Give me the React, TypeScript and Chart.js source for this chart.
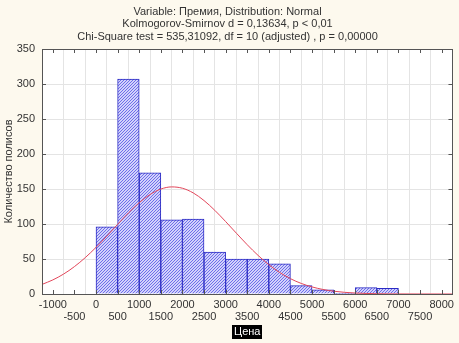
import React, { useEffect, useRef } from "react";
import { Chart, registerables } from "chart.js";
Chart.register(...registerables);

const titleLines = [
  "Variable: Премия, Distribution: Normal",
  "Kolmogorov-Smirnov d = 0,13634, p < 0,01",
  "Chi-Square test = 535,31092, df = 10 (adjusted) , p = 0,00000",
];
const xTitle = "Цена";
const yTitle = "Количество полисов";

const binWidth = 500;
const binStarts = [0, 500, 1000, 1500, 2000, 2500, 3000, 3500, 4000, 4500, 5000, 5500, 6000, 6500];
const binCounts = [96, 307, 173, 106, 107, 60, 50, 50, 43, 12, 6, 1, 9, 8];

const curveX = [
  -1250, -1000, -750, -500, -250, 0, 250, 500, 750, 1000, 1250, 1500, 1750, 2000, 2250, 2500, 2750, 3000,
  3250, 3500, 3750, 4000, 4250, 4500, 4750, 5000, 5250, 5500, 5750, 6000, 6250, 6500, 6750, 7000, 7250,
  7500, 7750, 8000, 8250,
];
const curveY = [
  13.7, 20.1, 28.5, 39.1, 51.9, 66.6, 82.7, 99.5, 115.8, 130.4, 142.1, 149.9, 153.0, 151.1, 144.4, 133.5,
  119.5, 103.5, 86.8, 70.4, 55.2, 41.9, 30.8, 21.9, 15.1, 10.1, 6.5, 4.0, 2.4, 1.4, 0.8, 0.4, 0.2, 0.1,
  0.05, 0.02, 0.01, 0, 0,
];

const xTickValues = [
  -1000, -500, 0, 500, 1000, 1500, 2000, 2500, 3000, 3500, 4000, 4500, 5000, 5500, 6000, 6500, 7000, 7500, 8000,
];
const xMin = -1250;
const xMax = 8250;
const yMax = 350;
const yStep = 50;

const FONT = "'Liberation Sans', Arial, sans-serif";
const BG = "#fdf9ee";

function makeHatch(ctx: CanvasRenderingContext2D) {
  const c = document.createElement("canvas");
  c.width = 3;
  c.height = 3;
  const p = c.getContext("2d")!;
  p.fillStyle = "#d2d2fb";
  p.fillRect(0, 0, 3, 3);
  p.fillStyle = "#6e6eea";
  for (let i = 0; i < 3; i++) p.fillRect(i, 2 - i, 1, 1);
  return ctx.createPattern(c, "repeat")!;
}

const framePlugin = {
  id: "frame",
  beforeDraw(chart: any) {
    const { ctx, chartArea } = chart;
    ctx.save();
    ctx.fillStyle = BG;
    ctx.fillRect(0, 0, chart.width, chart.height);
    ctx.fillStyle = "#ffffff";
    ctx.fillRect(chartArea.left, chartArea.top, chartArea.right - chartArea.left, chartArea.bottom - chartArea.top);
    ctx.restore();
  },
  afterDraw(chart: any) {
    const { ctx, chartArea } = chart;
    const { left, top, right, bottom } = chartArea;
    const xs = chart.scales.x;
    const ys = chart.scales.y;
    ctx.save();
    ctx.strokeStyle = "#555555";
    ctx.lineWidth = 1;
    ctx.strokeRect(Math.round(left) + 0.5, Math.round(top) + 0.5, Math.round(right - left), Math.round(bottom - top));
    ctx.beginPath();
    for (const v of xTickValues) {
      const px = Math.round(xs.getPixelForValue(v)) + 0.5;
      ctx.moveTo(px, bottom);
      ctx.lineTo(px, bottom - 4);
      ctx.moveTo(px, top);
      ctx.lineTo(px, top + 4);
    }
    for (let v = 0; v <= yMax; v += yStep) {
      const py = Math.round(ys.getPixelForValue(v)) + 0.5;
      ctx.moveTo(left, py);
      ctx.lineTo(left + 4, py);
      ctx.moveTo(right, py);
      ctx.lineTo(right - 4, py);
    }
    ctx.stroke();
    // x-axis title (highlighted)
    ctx.font = `11px ${FONT}`;
    const w = ctx.measureText(xTitle).width;
    const cx = (left + right) / 2;
    const cy = 332;
    ctx.fillStyle = "#000000";
    ctx.fillRect(Math.round(cx - w / 2 - 2), cy - 7, Math.round(w + 4), 14);
    ctx.fillStyle = "#ffffff";
    ctx.textAlign = "center";
    ctx.textBaseline = "middle";
    ctx.fillText(xTitle, cx, cy);
    ctx.restore();
  },
};

export default function App() {
  const ref = useRef<HTMLCanvasElement | null>(null);
  useEffect(() => {
    document.body.style.margin = "0";
    const canvas = ref.current!;
    const ctx = canvas.getContext("2d")!;
    const hatch = makeHatch(ctx);
    const chart = new Chart(canvas, {
      type: "bar",
      data: {
        datasets: [
          {
            type: "line",
            data: curveX.map((x, i) => ({ x, y: curveY[i] })),
            borderColor: "#e2465a",
            borderWidth: 1,
            pointRadius: 0,
            cubicInterpolationMode: "monotone",
            fill: false,
            order: 0,
          } as any,
          {
            type: "bar",
            data: binStarts.map((s, i) => ({ x: s + binWidth / 2, y: binCounts[i] })),
            backgroundColor: hatch,
            borderColor: "#2b2bc4",
            borderWidth: 1,
            barPercentage: 1,
            categoryPercentage: 1,
            order: 1,
          } as any,
        ],
      },
      options: {
        animation: false,
        responsive: false,
        maintainAspectRatio: false,
        layout: { padding: { left: 0, right: 4, top: 0, bottom: 0 } },
        plugins: {
          legend: { display: false },
          tooltip: { enabled: false },
          title: {
            display: true,
            text: titleLines,
            color: "#333333",
            font: { family: FONT, size: 11, weight: "normal", lineHeight: "12.5px" },
            padding: { top: 5.5, bottom: 6 },
          },
        },
        scales: {
          x: {
            type: "linear",
            min: xMin,
            max: xMax,
            offset: false,
            afterBuildTicks: (s: any) => {
              s.ticks = xTickValues.map((v) => ({ value: v }));
            },
            afterFit: (s: any) => {
              s.height = 49;
            },
            grid: { color: "#e4e4e4", drawTicks: false },
            border: { display: false },
            ticks: {
              autoSkip: false,
              maxRotation: 0,
              minRotation: 0,
              padding: 5,
              color: "#333333",
              font: { family: FONT, size: 11, lineHeight: 1.1 },
              callback: (value: any, index: number) =>
                index % 2 === 0 ? [String(value), ""] : ["", String(value)],
            },
          },
          y: {
            type: "linear",
            min: 0,
            max: yMax,
            afterFit: (s: any) => {
              s.width = 42;
            },
            grid: { color: "#e4e4e4", drawTicks: false },
            border: { display: false },
            ticks: {
              stepSize: yStep,
              padding: 7,
              color: "#333333",
              font: { family: FONT, size: 11 },
            },
            title: {
              display: true,
              text: yTitle,
              color: "#333333",
              font: { family: FONT, size: 11 },
              padding: { top: 2, bottom: 0 },
            },
          },
        },
      } as any,
      plugins: [framePlugin],
    });
    return () => chart.destroy();
  }, []);
  return (
    <div style={{ width: 459, height: 343, background: BG }}>
      <canvas ref={ref} width={459} height={343} style={{ display: "block" }} />
    </div>
  );
}
